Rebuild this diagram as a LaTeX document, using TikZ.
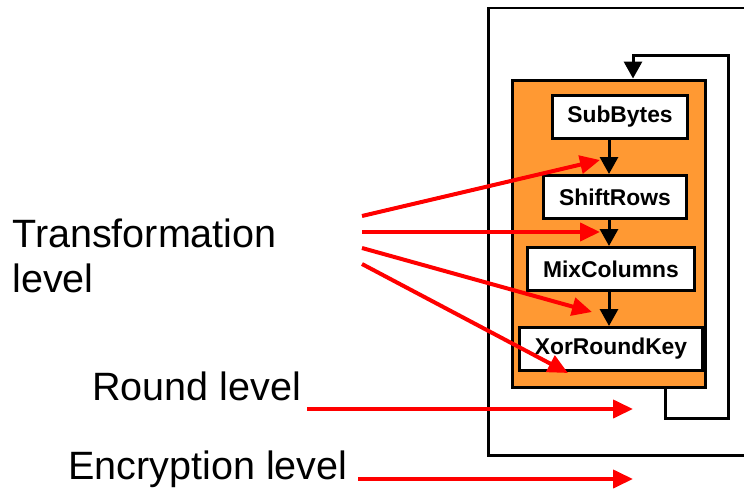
\documentclass[tikz,border=0pt]{standalone}
\usepackage{fontspec}
\setmainfont{Liberation Sans}
\usepackage{tikz}
\usetikzlibrary{positioning, arrows.meta}
\definecolor{roundorange}{RGB}{255,153,51}

\begin{document}
\begin{tikzpicture}[x=0.02cm, y=-0.02cm,
step box/.style ={rectangle, draw, fill=white, line width=0.06cm, minimum height=0.86cm, font=\fontsize{13}{15}\bfseries\selectfont},
level/.style ={inner sep=0pt, font=\fontsize{22.5}{25.5}\selectfont},
flow/.style ={-{Triangle[length=0.34cm, width=0.36cm]}, line width=0.06cm},
pointer/.style ={-{Triangle[length=0.4cm, width=0.36cm]}, red, line width=0.08cm}]
\clip (0,0) rectangle (744,490);
\draw[line width=0.06cm] (488,8) rectangle (770,455);
\node (O) [rectangle, draw, fill=roundorange, line width=0.06cm, minimum width=3.88cm, minimum height=6.16cm] at (609,234) {};
\node (A) [step box, minimum width=2.72cm] at (620,117) {SubBytes};
\node (B) [step box, minimum width=2.86cm] at (615,197) {ShiftRows};
\node (C) [step box, minimum width=3.34cm] at (611,269) {MixColumns};
\node (D) [step box, minimum width=3.66cm] at (611,349) {XorRoundKey};
\coordinate (P) at (609,0);

\node (T) [level, anchor=north west, align=left] at (12,219) {Transformation\\level};
\node (R) [level, anchor=base west] at (92,400) {Round level};
\node (E) [level, anchor=base west] at (68,479) {Encryption level};

% steps inside a round
\draw[flow] (A.south -| P) -- (B.north -| P);
\draw[flow] (B.south -| P) -- (C.north -| P);
\draw[flow] (C.south -| P) -- (D.north -| P);
% back to the next round
\draw[flow] (O.south -| 665,0) -- (665,418) -- (728,418) -- (728,55) -- (633,55) -- (O.north -| 633,0);

\coordinate (T1) at (362,216);
\coordinate (T2) at (362,232);
\coordinate (T3) at (362,248);
\coordinate (T4) at (362,264);
\coordinate (S1) at (600,160);
\coordinate (S2) at (600,232);
\coordinate (S3) at (592,312);
\coordinate (S4) at (568,373);
\coordinate (R1) at (307,409);
\coordinate (R2) at (633,409);
\coordinate (E1) at (358,479);
\coordinate (E2) at (633,479);

\draw[pointer] (T1) -- (S1);
\draw[pointer] (T2) -- (S2);
\draw[pointer] (T3) -- (S3);
\draw[pointer] (T4) -- (S4);
\draw[pointer] (R1) -- (R2);
\draw[pointer] (E1) -- (E2);
\end{tikzpicture}
\end{document}
